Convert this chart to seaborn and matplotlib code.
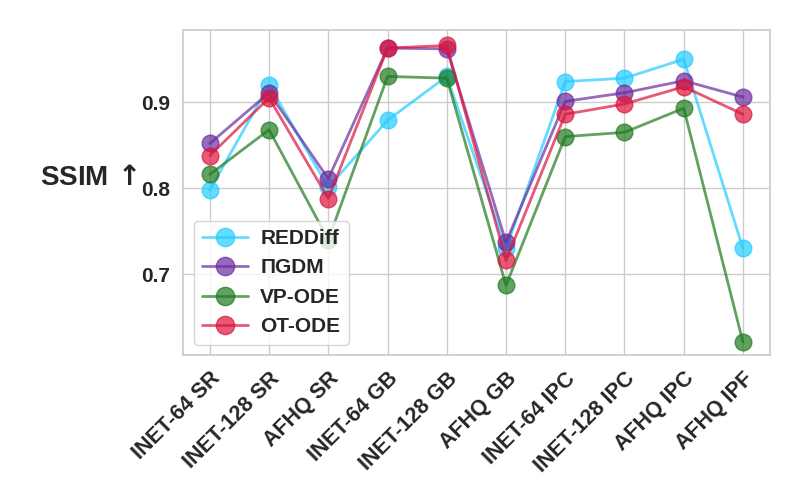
import matplotlib
matplotlib.use('Agg')
import matplotlib.pyplot as plt
import seaborn as sns
import pandas as pd

# Data
tasks = ['INET-64 SR', 'INET-128 SR', 'AFHQ SR', 'INET-64 GB', 'INET-128 GB',
         'AFHQ GB', 'INET-64 IPC', 'INET-128 IPC', 'AFHQ IPC', 'AFHQ IPF']
methods = ['REDDiff', 'ΠGDM', 'VP-ODE', 'OT-ODE']
reddiff = [0.798, 0.920, 0.801, 0.879, 0.930, 0.730, 0.924, 0.928, 0.950, 0.730]
pigdm = [0.852, 0.911, 0.811, 0.963, 0.962, 0.737, 0.901, 0.911, 0.925, 0.906]
vp_ode = [0.816, 0.868, 0.740, 0.930, 0.928, 0.687, 0.860, 0.865, 0.893, 0.621]
ot_ode = [0.838, 0.905, 0.788, 0.963, 0.966, 0.716, 0.886, 0.898, 0.918, 0.886]
colors = ['#22ccff', '#6a2c9e', '#1f7a1f', '#dc143c']

sns.set_theme(style='whitegrid')
plt.rcParams['font.family'] = ['Liberation Sans', 'DejaVu Sans']

df = pd.DataFrame({'task': tasks * 4,
                   'x': list(range(len(tasks))) * 4,
                   'ssim': reddiff + pigdm + vp_ode + ot_ode,
                   'method': [m for m in methods for _ in tasks]})

fig, ax = plt.subplots(figsize=(8, 5), dpi=100)
sns.lineplot(data=df, x='x', y='ssim', hue='method', hue_order=methods,
             palette=colors, marker='o', markersize=12, linewidth=2,
             alpha=0.7, markeredgewidth=1, ax=ax, sort=False)

for line in ax.lines:
    line.set_markeredgecolor(line.get_color())

ax.set_xlim(-0.45, 9.45)
ax.set_ylim(0.606, 0.984)
ax.set_xticks(range(len(tasks)))
ax.set_xticklabels(tasks, rotation=45, ha='right', rotation_mode='anchor',
                   fontsize=15.5, fontweight='bold')
ax.set_yticks([0.7, 0.8, 0.9])
ax.set_yticklabels(['0.7', '0.8', '0.9'], fontsize=15, fontweight='bold')
ax.set_xlabel('')
ax.set_ylabel('SSIM$\\,\\mathbf{\\uparrow}$', rotation=0, fontsize=20,
              fontweight='bold', va='center', ha='center')
ax.yaxis.set_label_coords(-0.161, 0.545)
for sp in ax.spines.values():
    sp.set_color('#cccccc')

leg = ax.legend(loc='lower left', prop={'weight': 'bold', 'size': 15},
                framealpha=0.8, handlelength=2.2, handletextpad=0.6,
                markerscale=1.1)
for h in leg.legend_handles:
    h.set_alpha(0.7)

plt.subplots_adjust(left=0.229, right=0.962, top=0.94, bottom=0.29)
plt.savefig('out.png', dpi=100)
